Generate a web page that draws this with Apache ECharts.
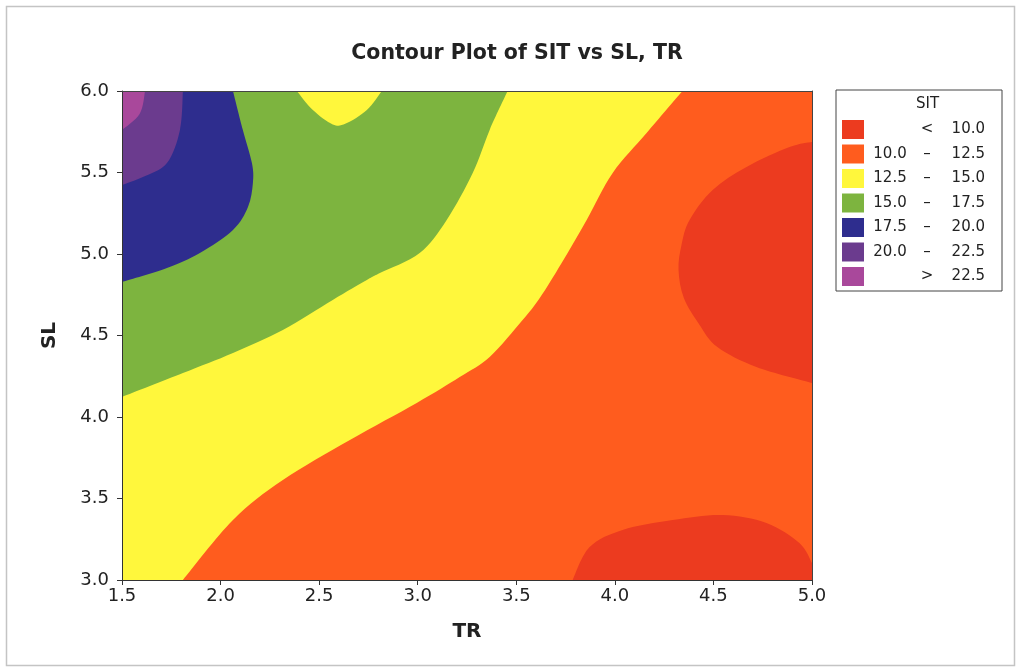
<!DOCTYPE html>
<html>
<head>
<meta charset="utf-8">
<script src="https://cdn.jsdelivr.net/npm/echarts@6/dist/echarts.min.js"></script>
<style>
  html, body { margin: 0; padding: 0; background: #fff; }
  #chart { width: 1017px; height: 668px; }
</style>
</head>
<body>
<div id="chart"></div>
<script>
// SIT bands (legend order, top to bottom)
const bandSign = ['<', '–', '–', '–', '–', '–', '>'];
const bandLow = ['', '10.0', '12.5', '15.0', '17.5', '20.0', ''];
const bandHigh = ['10.0', '12.5', '15.0', '17.5', '20.0', '22.5', '22.5'];
const bandColors = ['#ec3b1f', '#ff5c1e', '#fff73c', '#7db43f', '#2e2d8e', '#6b3b8e', '#a9489b'];

// contour lines, as [TR, SL]
const sit10Right = [[5.0, 5.687], [4.886, 5.656], [4.668, 5.534], [4.496, 5.393], [4.379, 5.209],
  [4.338, 5.055], [4.323, 4.902], [4.35, 4.73], [4.43, 4.565], [4.52, 4.43], [4.718, 4.307], [5.0, 4.209]];
const sit10Bottom = [[3.786, 3.0], [3.872, 3.202], [4.039, 3.307], [4.293, 3.368], [4.546, 3.399],
  [4.769, 3.35], [4.936, 3.227], [5.0, 3.104]];
const sit125Edge = [[1.809, 3.0], [2.063, 3.368], [2.316, 3.613], [2.656, 3.859], [2.995, 4.086],
  [3.213, 4.245], [3.365, 4.368], [3.532, 4.595], [3.619, 4.73], [3.73, 4.945],
  [3.857, 5.209], [3.989, 5.497], [4.161, 5.742], [4.343, 6.0]];
const sit15Edge = [[1.5, 4.123], [1.809, 4.27], [2.063, 4.393], [2.316, 4.534], [2.569, 4.718],
  [2.742, 4.84], [2.808, 4.883], [3.01, 5.006], [3.147, 5.209], [3.279, 5.497], [3.365, 5.761], [3.456, 6.0]];
const sit15Island = [[2.818, 6.0], [2.742, 5.883], [2.635, 5.8], [2.569, 5.795], [2.468, 5.883], [2.387, 6.0]];
const sit175Edge = [[1.5, 4.828], [1.728, 4.914], [1.895, 5.006], [2.063, 5.147], [2.139, 5.288],
  [2.164, 5.436], [2.159, 5.558], [2.113, 5.761], [2.063, 6.0]];
const sit20Edge = [[1.5, 5.423], [1.606, 5.472], [1.728, 5.558], [1.794, 5.761], [1.809, 6.0]];
const sit225Edge = [[1.5, 5.76], [1.59, 5.86], [1.617, 6.0]];

// plot corners
const cLB = [[1.5, 3.0]], cRB = [[5.0, 3.0]], cRT = [[5.0, 6.0]], cLT = [[1.5, 6.0]];

// each band: list of shapes, each shape a list of parts (curve parts smoothed, joined by straight lines)
const bandShapes = [
  [[sit10Right], [sit10Bottom, cRB]],
  [[cLB, cRB, cRT, cLT]],
  [[cLB, sit125Edge, cLT]],
  [[sit15Edge, sit15Island, cLT]],
  [[sit175Edge, cLT]],
  [[sit20Edge, cLT]],
  [[sit225Edge, cLT]]
];
// painting order: background band first
const drawOrder = [1, 0, 2, 3, 4, 5, 6];

const bandNames = bandSign.map((s, i) => (bandLow[i] ? bandLow[i] + ' ' : '') + s + ' ' + bandHigh[i]);

function regionItem(shapes) {
  return function (params, api) {
    const parts = shapes[params.dataIndex];
    let d = '';
    parts.forEach(function (part, k) {
      const pts = part.map(p => api.coord(p));
      d += (k === 0 ? 'M' : 'L') + pts[0][0] + ' ' + pts[0][1];
      for (let i = 0; i < pts.length - 1; i++) {
        const p0 = pts[Math.max(i - 1, 0)], p1 = pts[i], p2 = pts[i + 1], p3 = pts[Math.min(i + 2, pts.length - 1)];
        d += 'C' + (p1[0] + (p2[0] - p0[0]) / 6) + ' ' + (p1[1] + (p2[1] - p0[1]) / 6) + ' ' +
          (p2[0] - (p3[0] - p1[0]) / 6) + ' ' + (p2[1] - (p3[1] - p1[1]) / 6) + ' ' + p2[0] + ' ' + p2[1];
      }
    });
    d += 'Z';
    return { type: 'path', shape: { pathData: d }, style: { fill: api.visual('color') } };
  };
}

const chart = echarts.init(document.getElementById('chart'));
const font = 'DejaVu Sans';

const option = {
  backgroundColor: '#fff',
  animation: false,
  title: {
    text: 'Contour Plot of SIT vs SL, TR',
    left: 512, top: 38, textAlign: 'center',
    textStyle: { fontFamily: font, fontWeight: 'bold', fontSize: 20.5, color: '#222' }
  },
  grid: { left: 122, right: 205, top: 91, bottom: 88 },
  xAxis: [{
    type: 'value', min: 1.5, max: 5.0, interval: 0.5, z: 10,
    name: 'TR', nameLocation: 'middle', nameGap: 42,
    nameTextStyle: { fontFamily: font, fontWeight: 'bold', fontSize: 20, color: '#222' },
    axisLine: { show: true, onZero: false, lineStyle: { color: '#333', width: 1 } },
    axisTick: { length: 5, lineStyle: { color: '#333' } },
    axisLabel: { margin: 7, fontFamily: font, fontSize: 18, color: '#222', formatter: v => v.toFixed(1) },
    splitLine: { show: false }
  }, {
    type: 'value', position: 'top', min: 1.5, max: 5.0, z: 10,
    axisLine: { show: true, onZero: false, lineStyle: { color: '#444' } },
    axisTick: { show: false }, axisLabel: { show: false }, splitLine: { show: false }
  }],
  yAxis: [{
    type: 'value', min: 3.0, max: 6.0, interval: 0.5, z: 10,
    name: 'SL', nameLocation: 'middle', nameGap: 62,
    nameTextStyle: { fontFamily: font, fontWeight: 'bold', fontSize: 20, color: '#222' },
    axisLine: { show: true, onZero: false, lineStyle: { color: '#333', width: 1 } },
    axisTick: { length: 5, lineStyle: { color: '#333' } },
    axisLabel: { margin: 13, fontFamily: font, fontSize: 18, color: '#222', formatter: v => v.toFixed(1) },
    splitLine: { show: false }
  }, {
    type: 'value', position: 'right', min: 3.0, max: 6.0, z: 10,
    axisLine: { show: true, onZero: false, lineStyle: { color: '#444' } },
    axisTick: { show: false }, axisLabel: { show: false }, splitLine: { show: false }
  }],
  legend: {
    orient: 'vertical', left: 836, top: 90,
    data: bandNames,
    icon: 'rect', itemWidth: 22, itemHeight: 19, itemGap: 5.5,
    padding: [30, 17, 5, 6],
    borderColor: '#444', borderWidth: 1,
    selectedMode: false,
    formatter: function (name) {
      const i = bandNames.indexOf(name);
      return '{a|' + (bandLow[i] || ' ') + '}{b|' + bandSign[i] + '}{c|' + bandHigh[i] + '}';
    },
    textStyle: {
      fontFamily: font, fontSize: 15, color: '#222',
      rich: {
        a: { width: 42, align: 'right', fontFamily: font, fontSize: 15, color: '#222' },
        b: { width: 32, align: 'center', fontFamily: font, fontSize: 15, color: '#222' },
        c: { width: 42, align: 'right', fontFamily: font, fontSize: 15, color: '#222' }
      }
    }
  },
  graphic: [
    { type: 'text', left: 916, top: 97,
      style: { text: 'SIT', fontFamily: font, fontSize: 15, fill: '#222' } },
    { type: 'rect', left: 4, top: 4, silent: true,
      shape: { width: 1008, height: 659 },
      style: { fill: 'none', stroke: '#c4c4c4', lineWidth: 1.5 } }
  ],
  series: drawOrder.map(i => ({
    type: 'custom',
    name: bandNames[i],
    coordinateSystem: 'cartesian2d',
    clip: true,
    silent: true,
    itemStyle: { color: bandColors[i] },
    renderItem: regionItem(bandShapes[i]),
    data: bandShapes[i].map(s => s[0][0])
  }))
};

chart.setOption(option);
</script>
</body>
</html>
